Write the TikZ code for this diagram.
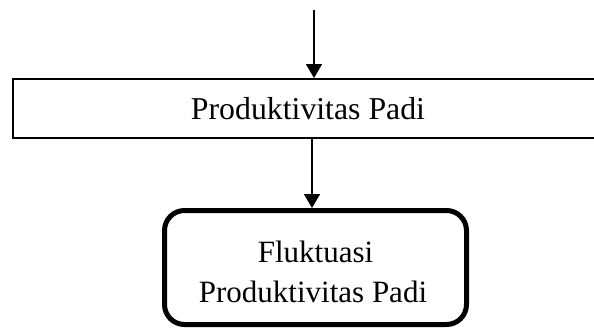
\documentclass[tikz,border=0pt]{standalone}
\usepackage{fontspec}
\setmainfont{Liberation Serif}
\usetikzlibrary{arrows.meta}
\begin{document}
\begin{tikzpicture}[x=1pt,y=-1pt,
  txtA/.style={font=\fontsize{31.8}{38}\selectfont, inner sep=0pt},
  txtB/.style={font=\fontsize{31}{38}\selectfont, inner sep=0pt, anchor=base},
  plainbox/.style={draw, line width=2pt, inner sep=0pt},
  roundbox/.style={draw, line width=5pt, rounded corners=20pt, inner sep=0pt},
  arr/.style={line width=1.8pt, -{Triangle[length=14pt,width=16pt]}}]
\useasboundingbox (0,0) rectangle (594,327);
\clip (0,0) rectangle (594,327);
\node[plainbox, txtA, minimum width=590pt, minimum height=59pt] (prod) at (308,108.5) {Produktivitas Padi};
\node[roundbox, minimum width=302pt, minimum height=114pt] (fluk) at (315.5,267.5) {};
\node[txtB] (fl1) at (315.5,262.7) {Fluktuasi};
\node[txtB] (fl2) at (313,302.7) {Produktivitas Padi};
\coordinate (topstart) at (314,10);
\coordinate (midx) at (312,0);
\draw[arr] (topstart) -- (topstart |- prod.north);
\draw[arr] (prod.south -| midx) -- (fluk.north -| midx);
\end{tikzpicture}
\end{document}
